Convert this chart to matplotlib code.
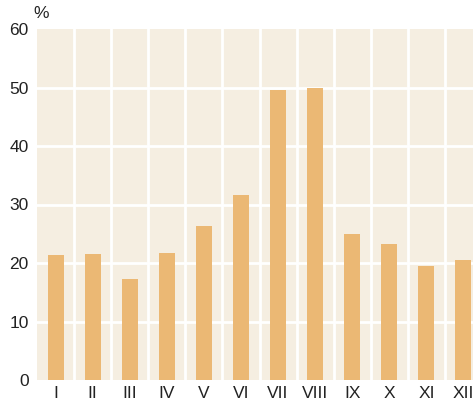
import matplotlib
matplotlib.use('Agg')
import matplotlib.pyplot as plt
import numpy as np

plt.rcParams['font.family'] = ['Liberation Sans Narrow', 'Liberation Sans', 'DejaVu Sans']

# data
months = ['I', 'II', 'III', 'IV', 'V', 'VI', 'VII', 'VIII', 'IX', 'X', 'XI', 'XII']
values = [21.4, 21.5, 17.3, 21.7, 26.3, 31.6, 49.6, 49.9, 25.0, 23.2, 19.5, 20.5]
yticks = [0, 10, 20, 30, 40, 50, 60]

fig = plt.figure(figsize=(4.73, 4.0), dpi=100)
ax = fig.add_axes([37 / 473, 20 / 400, 445 / 473, 351 / 400])
ax.set_facecolor('#f5eee1')

x = np.arange(len(months))
ax.bar(x, values, width=0.43, color='#ebb874', zorder=3)

ax.set_xlim(-0.5, len(months) - 0.5)
ax.set_ylim(0, 60)
ax.set_yticks(yticks)
ax.set_xticks(x)
ax.set_xticklabels(months)

# white grid: horizontal at ticks, vertical between months
for y in yticks[1:-1]:
    ax.axhline(y, color='white', lw=2, zorder=2)
for b in np.arange(0.5, len(months) - 0.5, 1):
    ax.axvline(b, color='white', lw=2, zorder=2)

for s in ax.spines.values():
    s.set_visible(False)
ax.tick_params(length=0, labelsize=12.5, colors='#222222', pad=4)
ax.tick_params(axis='y', pad=6)

fig.text(33 / 473, 1 - 14 / 400, '%', fontsize=12.5, color='#222222', ha='left', va='center')

fig.savefig('out.png', dpi=100, facecolor='white')
